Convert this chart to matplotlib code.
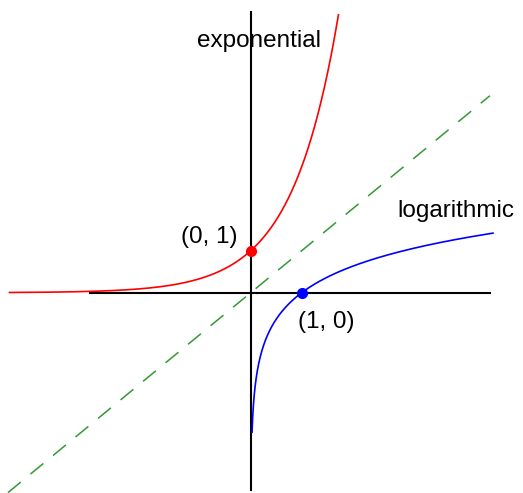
import numpy as np
import matplotlib.pyplot as plt

plt.rcParams['font.family'] = ['Liberation Sans', 'DejaVu Sans']
plt.rcParams['lines.scale_dashes'] = False

# curves: y = base**x, y = log_base(x), y = x
base = 3
exp_range = [-4.73, 1.72]
log_range = [0.026, 4.75]
diag_range = [-4.76, 4.69]

# axis lines
xaxis_range = [-3.16, 4.69]
yaxis_range = [-4.69, 6.69]

# marked points
pt_x = [0, 1]
pt_y = [1, 0]
pt_colors = ['red', 'blue']

labels = ['exponential', '(0, 1)', 'logarithmic', '(1, 0)']
label_x = [-1.05, -0.25, 2.87, 0.93]
label_y = [5.85, 1.18, 1.80, -0.84]
label_ha = ['left', 'right', 'left', 'left']

fig = plt.figure(figsize=(5.23, 4.93), dpi=100)
ax = fig.add_axes([0, 0, 1, 1])
ax.set_xlim(-4.916, 5.339)
ax.set_ylim(-4.769, 6.969)
ax.set_axis_off()

# axes
ax.plot(xaxis_range, [0, 0], color='black', lw=1.5, zorder=1)
ax.plot([0, 0], yaxis_range, color='black', lw=1.5, zorder=1)

# y = x
ax.plot(diag_range, diag_range, color='#339933', lw=1.1,
        linestyle=(0, (12, 9)), zorder=2)

xe = np.linspace(exp_range[0], exp_range[1], 400)
ax.plot(xe, base ** xe, color='red', lw=1.2, zorder=3)

xl = np.geomspace(log_range[0], log_range[1], 400)
ax.plot(xl, np.log(xl) / np.log(base), color='blue', lw=1.2, zorder=3)

for x, y, c in zip(pt_x, pt_y, pt_colors):
    ax.plot(x, y, 'o', color=c, markersize=7, zorder=4)

for t, x, y, ha in zip(labels, label_x, label_y, label_ha):
    ax.text(x, y, t, ha=ha, va='baseline', fontsize=17.5, color='black')

fig.savefig('out.png', dpi=100)
